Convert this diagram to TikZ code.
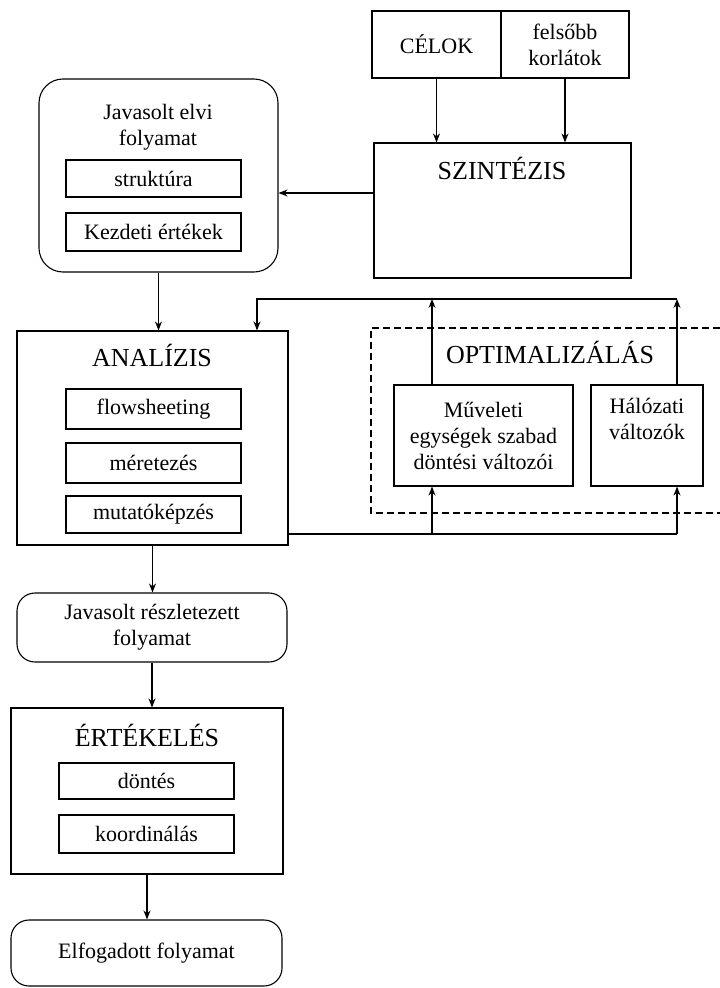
\documentclass[tikz,border=0pt]{standalone}
\usepackage{fontspec}
\setmainfont{Liberation Serif}
\usetikzlibrary{arrows.meta}

\tikzset{
  doboz/.style={draw, line width=1.1pt, inner sep=0pt, align=center,
    font=\fontsize{22}{26}\selectfont},
  kerek/.style={doboz, rounded corners=18pt},
  cim/.style={font=\fontsize{26}{30}\selectfont},
  nyil/.style={-{Stealth[length=9pt,width=7pt]}, line width=1.1pt},
  vonal/.style={line width=1.1pt}
}

\begin{document}
\begin{tikzpicture}[x=1pt, y=-1pt]
  \useasboundingbox (0,0) rectangle (720,988);

  % Felső rész
  \node[doboz, minimum width=129pt, minimum height=67pt] (celok) at (436.5,44.5) {CÉLOK};
  \node[doboz, minimum width=128pt, minimum height=67pt] (felso) at (565,44.5) {felsőbb\\korlátok};
  \node[doboz, minimum width=257pt, minimum height=135pt] (szint) at (502.5,210.5) {};
  \node[cim] at (502,168) {SZINTÉZIS};

  % Elvi folyamat
  \node[kerek, rounded corners=24pt, minimum width=239pt, minimum height=193pt] (elvi) at (158.5,175.5) {};
  \node[doboz, draw=none] at (158,127) {Javasolt elvi\\folyamat};
  \node[doboz, minimum width=175pt, minimum height=37pt] (strukt) at (153.5,178.5) {struktúra};
  \node[doboz, minimum width=175pt, minimum height=38pt] (kezd) at (153.5,232) {Kezdeti értékek};

  % Analízis
  \node[doboz, minimum width=271pt, minimum height=214pt] (anal) at (152.5,438) {};
  \node[cim] at (152,355) {ANALÍZIS};
  \node[doboz, minimum width=175pt, minimum height=40pt] (flow) at (153.5,409) {flowsheeting};
  \node[doboz, minimum width=175pt, minimum height=40pt] (meret) at (153.5,463) {méretezés};
  \node[doboz, minimum width=175pt, minimum height=37pt] (mutat) at (153.5,514.5) {mutatóképzés};

  % Optimalizálás
  \draw[vonal, dash pattern=on 7pt off 4pt] (720,328) -- (371,328) -- (371,513) -- (720,513);
  \node[cim] at (550,352) {OPTIMALIZÁLÁS};
  \node[doboz, minimum width=179pt, minimum height=101pt] (muv) at (483.5,435.5)
    {Műveleti\\egységek szabad\\döntési változói};
  \node[doboz, minimum width=112pt, minimum height=101pt] (hal) at (647,435.5)
    {Hálózati\\változók\\\strut};

  % Alsó rész
  \node[kerek, minimum width=270pt, minimum height=69pt] (reszl) at (152,627.5) {Javasolt részletezett\\folyamat};
  \node[doboz, minimum width=272pt, minimum height=166pt] (ertek) at (147,791) {};
  \node[cim] at (147,735) {ÉRTÉKELÉS};
  \node[doboz, minimum width=175pt, minimum height=36pt] (dont) at (146.5,781) {döntés};
  \node[doboz, minimum width=175pt, minimum height=38pt] (koord) at (146.5,834) {koordinálás};
  \node[kerek, minimum width=271pt, minimum height=66pt] (elfog) at (146.5,953) {Elfogadott folyamat};

  % Segédpontok
  \coordinate (sy) at (0,193);
  \coordinate (xm) at (432,0);
  \coordinate (fbR) at (677,299);
  \coordinate (fbL) at (257,299);
  \coordinate (outR) at (677,534);

  % Nyilak
  \draw[nyil] (celok.south) -- (celok.south |- szint.north);
  \draw[nyil] (felso.south) -- (felso.south |- szint.north);
  \draw[nyil] (szint.west |- sy) -- (elvi.east |- sy);
  \draw[nyil] (elvi.south) -- (elvi.south |- anal.north);
  \draw[nyil] (muv.north -| xm) -- (fbR -| xm);
  \draw[nyil] (hal.north -| fbR) -- (fbR);
  \draw[nyil] (fbR) -- (fbL) -- (anal.north -| fbL);
  \draw[vonal] (anal.east |- outR) -- (outR);
  \draw[nyil] (outR -| xm) -- (muv.south -| xm);
  \draw[nyil] (outR) -- (hal.south -| outR);
  \draw[nyil] (anal.south) -- (anal.south |- reszl.north);
  \draw[nyil] (reszl.south) -- (reszl.south |- ertek.north);
  \draw[nyil] (ertek.south) -- (ertek.south |- elfog.north);
\end{tikzpicture}
\end{document}
